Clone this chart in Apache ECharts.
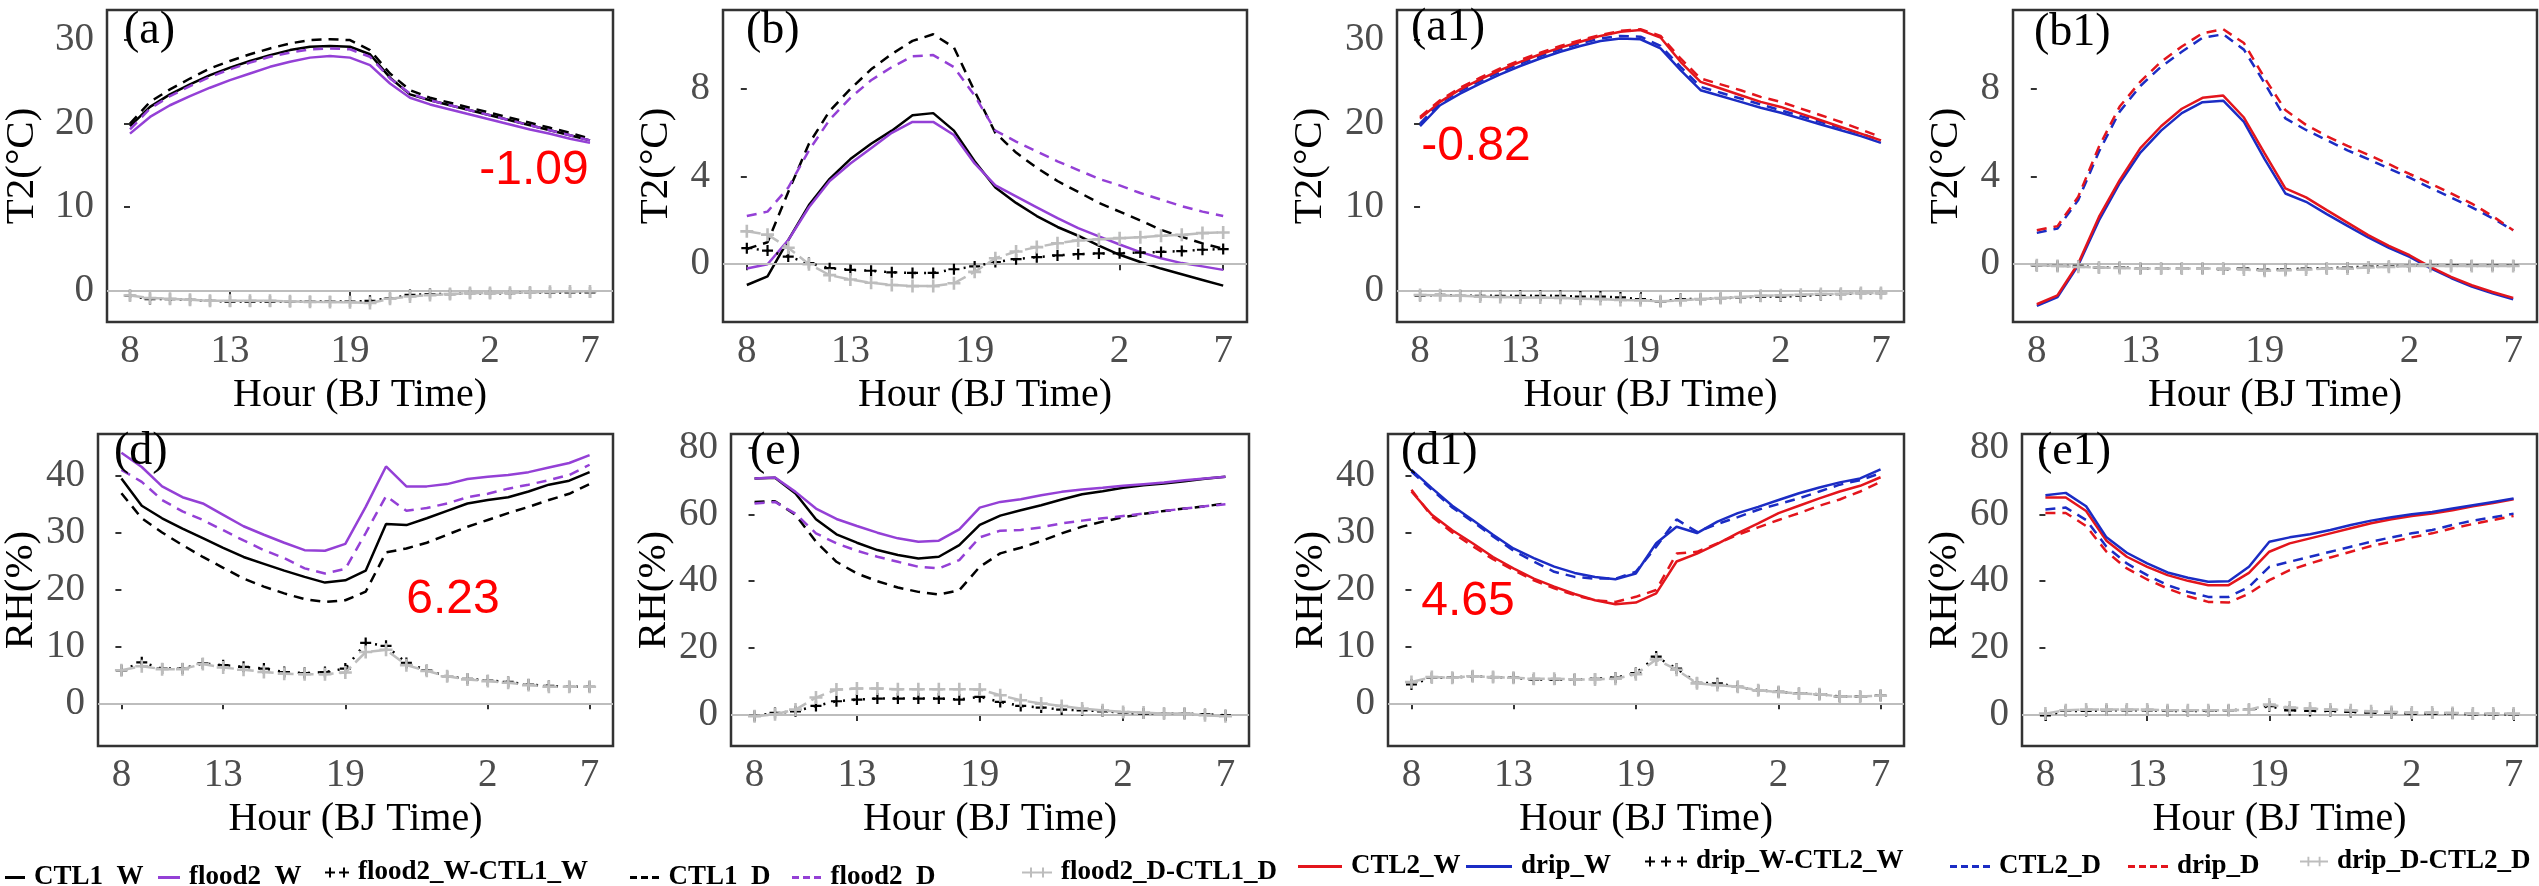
<!DOCTYPE html>
<html><head><meta charset="utf-8">
<script src="https://cdn.jsdelivr.net/npm/echarts@6/dist/echarts.min.js"></script>
<style>html,body{margin:0;padding:0;background:#fff}#c{width:2539px;height:886px}</style>
</head><body><div id="c"></div><script>
// ---------- categories ----------
const hours = [8,9,10,11,12,13,14,15,16,17,18,19,20,21,22,23,0,1,2,3,4,5,6,7];
const xTickIdx = [0,5,11,18,23];
const yTicksT2a = [0,10,20,30];
const yTicksT2b = [0,4,8];
const yTicksRHd = [0,10,20,30,40];
const yTicksRHe = [0,20,40,60,80];

// ---------- panel (a) T2 ----------
const a_CTL1_W   = [19.7,22.0,23.5,24.7,25.8,26.7,27.5,28.2,28.8,29.2,29.3,29.2,28.3,25.5,23.5,22.8,22.2,21.6,21.0,20.4,19.8,19.2,18.6,18.0];
const a_flood2_W = [18.8,20.8,22.2,23.3,24.3,25.2,26.0,26.8,27.4,27.9,28.1,27.9,27.0,24.8,23.1,22.3,21.7,21.1,20.5,19.9,19.3,18.8,18.2,17.7];
const a_diffW    = [-0.6,-1.0,-1.0,-1.1,-1.2,-1.3,-1.3,-1.3,-1.3,-1.3,-1.3,-1.3,-1.2,-0.9,-0.5,-0.4,-0.4,-0.3,-0.3,-0.3,-0.2,-0.2,-0.2,-0.2];
const a_CTL1_D   = [20.0,22.6,24.1,25.4,26.6,27.5,28.3,29.0,29.6,30.0,30.1,30.0,28.8,26.0,24.0,23.1,22.5,21.9,21.3,20.7,20.1,19.5,18.9,18.2];
const a_flood2_D = [19.3,21.8,23.3,24.5,25.6,26.5,27.3,28.0,28.5,28.9,29.0,28.9,28.0,25.4,23.6,22.8,22.2,21.6,21.0,20.4,19.8,19.2,18.6,18.0];
const a_diffD    = [-0.56,-0.88,-0.95,-1.08,-1.2,-1.2,-1.2,-1.2,-1.27,-1.33,-1.35,-1.38,-1.47,-0.96,-0.68,-0.52,-0.4,-0.28,-0.28,-0.24,-0.2,-0.12,-0.08,-0.08];

// ---------- panel (b) T2 ----------
const b_CTL1_W   = [-0.95,-0.56,1.1,2.7,3.9,4.8,5.5,6.1,6.8,6.9,6.1,4.7,3.5,2.8,2.2,1.7,1.3,0.85,0.43,0.1,-0.2,-0.46,-0.72,-0.98];
const b_flood2_W = [-0.2,0.0,1.1,2.6,3.8,4.6,5.3,6.0,6.5,6.5,5.9,4.6,3.6,3.1,2.6,2.1,1.65,1.27,0.9,0.55,0.27,0.05,-0.1,-0.26];
const b_diffW    = [0.73,0.62,0.35,0.05,-0.18,-0.26,-0.3,-0.37,-0.4,-0.4,-0.23,-0.1,0.1,0.23,0.32,0.4,0.46,0.49,0.5,0.53,0.56,0.6,0.66,0.69];
const b_CTL1_D   = [0.7,1.0,3.3,5.5,7.0,8.0,8.9,9.6,10.2,10.5,9.9,7.9,6.0,5.1,4.4,3.8,3.3,2.8,2.4,2.0,1.57,1.25,0.95,0.7];
const b_flood2_D = [2.2,2.4,3.5,5.2,6.6,7.6,8.4,9.0,9.5,9.55,9.0,7.7,6.1,5.6,5.15,4.7,4.3,3.9,3.6,3.25,2.95,2.65,2.4,2.2];
const b_diffD    = [1.5,1.35,0.75,0.0,-0.5,-0.7,-0.85,-0.95,-1.0,-1.0,-0.87,-0.35,0.27,0.58,0.78,0.96,1.08,1.14,1.19,1.23,1.3,1.34,1.42,1.45];

// ---------- panel (d) RH ----------
const d_CTL1_W   = [39.5,34.7,32.5,30.7,29.0,27.3,25.7,24.5,23.3,22.2,21.2,21.6,23.3,31.5,31.3,32.5,33.8,35.1,35.7,36.2,37.2,38.4,39.1,40.6];
const d_flood2_W = [44.0,41.5,38.1,36.2,35.1,33.1,31.1,29.6,28.2,26.9,26.8,28.0,34.5,41.6,38.1,38.1,38.5,39.4,39.8,40.1,40.6,41.4,42.2,43.6];
const d_diffW    = [5.8,7.2,6.1,6.1,7.0,6.7,6.4,6.1,5.5,5.3,5.5,6.1,10.6,10.1,7.1,5.8,4.75,4.3,4.0,3.75,3.3,3.05,2.9,2.9];
const d_CTL1_D   = [36.9,32.5,30.0,27.8,25.7,23.8,21.9,20.5,19.3,18.3,17.8,18.1,19.6,26.5,27.2,28.2,29.6,31.0,32.2,33.4,34.5,35.7,36.8,38.5];
const d_flood2_D = [41.0,38.9,35.7,33.7,32.2,30.4,28.6,26.9,25.5,23.7,22.8,23.6,29.9,36.4,33.8,34.3,35.1,36.2,36.8,37.7,38.4,39.2,40.1,41.9];
const d_diffD    = [5.8,6.5,6.0,6.0,6.9,6.3,5.9,5.5,5.2,5.1,5.1,5.4,9.0,9.4,6.7,5.7,4.75,4.2,3.9,3.6,3.2,2.9,2.9,2.9];

// ---------- panel (e) RH ----------
const e_CTL1_W   = [70.7,70.9,66.2,58.5,54.0,51.5,49.3,47.8,46.8,47.3,50.8,56.8,59.6,61.2,62.7,64.4,66.0,66.9,67.9,68.7,69.2,69.9,70.6,71.2];
const e_flood2_W = [70.7,71.0,66.7,61.7,58.6,56.5,54.5,52.8,51.8,52.1,55.5,62.0,63.7,64.5,65.7,66.7,67.4,67.9,68.5,69.0,69.5,70.2,70.7,71.2];
const e_diffW    = [-0.3,0.6,1.1,2.7,4.1,4.6,4.9,4.9,4.9,4.9,4.6,5.4,3.9,2.7,2.2,1.6,1.4,1.1,0.7,0.4,0.4,0.4,0.2,-0.1];
const e_CTL1_D   = [63.7,63.9,59.8,51.8,45.8,42.3,40.0,38.1,36.8,36.0,37.3,44.3,48.3,50.0,52.0,54.3,56.3,57.8,59.1,60.1,61.0,61.7,62.4,63.2];
const e_flood2_D = [63.2,63.7,60.2,54.3,51.3,49.1,47.3,45.8,44.3,43.8,46.3,53.1,55.1,55.3,56.1,57.3,58.1,58.8,59.5,60.2,61.0,61.7,62.4,63.0];
const e_diffD    = [-0.4,0.2,1.6,5.2,7.6,7.9,7.9,7.7,7.7,7.7,7.7,7.6,5.9,4.4,3.4,2.7,1.9,1.4,0.9,0.7,0.4,0.4,-0.1,-0.4];

// ---------- panel (a1) T2 ----------
const a1_CTL2_W  = [20.6,22.6,24.1,25.3,26.4,27.4,28.3,29.1,29.8,30.5,31.0,31.2,30.3,27.4,25.0,24.2,23.4,22.6,22.0,21.2,20.4,19.6,18.8,18.0];
const a1_drip_W  = [19.7,22.2,23.6,24.8,25.9,26.9,27.8,28.6,29.3,29.9,30.2,30.1,29.0,26.4,24.0,23.3,22.6,21.9,21.3,20.6,19.9,19.2,18.5,17.7];
const a1_diffW   = [-0.6,-0.5,-0.6,-0.6,-0.6,-0.6,-0.6,-0.6,-0.7,-0.7,-0.8,-1.0,-1.3,-1.0,-1.0,-0.9,-0.8,-0.7,-0.7,-0.6,-0.5,-0.4,-0.3,-0.3];
const a1_CTL2_D  = [20.0,22.5,23.9,25.1,26.2,27.2,28.1,28.9,29.6,30.2,30.5,30.4,29.3,26.8,24.4,23.7,23.0,22.3,21.6,20.9,20.2,19.5,18.8,18.0];
const a1_drip_D  = [20.8,22.8,24.3,25.5,26.6,27.6,28.5,29.3,30.0,30.6,31.1,31.3,30.5,27.8,25.4,24.7,24.0,23.2,22.6,21.8,21.0,20.2,19.3,18.4];
const a1_diffD   = [-0.5,-0.55,-0.6,-0.7,-0.75,-0.8,-0.8,-0.85,-0.95,-1.0,-1.1,-1.15,-1.27,-1.15,-1.0,-0.88,-0.75,-0.6,-0.55,-0.48,-0.4,-0.36,-0.28,-0.28];

// ---------- panel (b1) T2 ----------
const b1_CTL2_W  = [-1.83,-1.42,0.03,2.16,3.84,5.3,6.3,7.1,7.6,7.7,6.7,5.06,3.46,3.05,2.47,1.9,1.33,0.84,0.41,-0.12,-0.58,-0.96,-1.27,-1.54];
const b1_drip_W  = [-1.9,-1.5,-0.05,2.0,3.7,5.1,6.1,6.9,7.4,7.47,6.5,4.8,3.23,2.85,2.29,1.75,1.22,0.75,0.33,-0.18,-0.63,-1.02,-1.33,-1.6];
const b1_diffW   = [-0.07,-0.08,-0.08,-0.16,-0.14,-0.2,-0.2,-0.2,-0.2,-0.23,-0.2,-0.26,-0.23,-0.2,-0.18,-0.15,-0.11,-0.09,-0.08,-0.06,-0.05,-0.06,-0.06,-0.06];
const b1_CTL2_D  = [1.43,1.63,2.93,5.14,6.97,8.14,9.02,9.7,10.34,10.5,9.8,8.26,6.66,6.13,5.67,5.2,4.8,4.37,3.95,3.49,3.05,2.6,2.1,1.55];
const b1_drip_D  = [1.55,1.74,3.08,5.37,7.2,8.34,9.25,9.94,10.55,10.73,10.1,8.5,7.04,6.36,5.85,5.4,5.0,4.57,4.12,3.69,3.23,2.77,2.2,1.55];
const b1_diffD   = [-0.05,-0.08,-0.12,-0.15,-0.17,-0.2,-0.2,-0.2,-0.2,-0.2,-0.24,-0.3,-0.27,-0.24,-0.2,-0.2,-0.15,-0.12,-0.08,-0.08,-0.08,-0.08,-0.08,-0.08];

// ---------- panel (d1) RH ----------
const d1_CTL2_W  = [37.2,33.1,30.4,28.1,25.7,23.7,21.9,20.5,19.2,18.1,17.4,17.7,19.3,24.9,26.3,28.0,29.9,31.6,33.4,34.7,36.0,37.2,38.2,39.7];
const d1_drip_W  = [41.0,37.8,34.7,32.2,29.6,27.2,25.5,24.0,22.9,22.2,21.8,22.8,28.1,31.0,29.9,31.9,33.4,34.5,35.7,36.9,37.9,38.8,39.5,41.1];
const d1_diffW   = [3.3,4.5,4.5,4.75,4.6,4.5,4.2,4.2,4.2,4.3,4.5,5.3,8.2,6.1,3.6,3.5,2.9,2.3,2.0,1.7,1.6,1.2,1.2,1.35];
const d1_CTL2_D  = [40.7,37.5,34.4,31.9,29.3,26.8,24.9,23.1,22.2,21.9,21.9,23.1,27.5,32.3,30.1,31.5,32.7,34.0,35.0,36.0,37.2,38.4,39.2,40.4];
const d1_drip_D  = [37.5,32.8,30.0,27.6,25.3,23.4,21.6,20.2,19.0,18.1,17.8,18.7,19.9,26.3,26.6,28.1,29.6,30.9,32.2,33.4,34.7,35.8,37.2,38.9];
const d1_diffD   = [3.75,4.6,4.5,4.75,4.6,4.5,4.3,4.3,4.2,4.2,4.3,5.1,7.7,5.9,3.5,3.2,2.9,2.3,2.0,1.7,1.6,1.2,1.2,1.35];

// ---------- panel (e1) RH ----------
const e1_CTL2_W  = [65.0,65.0,61.0,52.1,47.3,44.3,41.8,40.1,38.8,38.8,42.5,48.8,51.3,52.8,54.3,55.8,57.3,58.5,59.5,60.2,61.2,62.4,63.4,64.5];
const e1_drip_W  = [65.7,66.4,62.4,53.1,48.5,45.3,42.6,41.0,39.8,40.0,44.3,51.8,53.1,54.0,55.3,56.8,58.1,59.1,60.0,60.7,61.7,62.7,63.7,64.7];
const e1_diffW   = [-0.1,1.2,1.2,1.4,1.4,1.4,1.2,1.2,1.2,1.4,1.6,2.6,1.4,1.2,1.2,0.9,0.7,0.6,0.4,0.4,0.4,0.2,0.2,0.2];
const e1_CTL2_D  = [61.4,62.0,58.3,50.3,45.3,41.8,38.8,36.8,35.3,35.3,38.3,44.3,45.8,47.3,48.8,50.3,51.8,53.1,54.3,55.3,56.8,58.1,59.1,60.2];
const e1_drip_D  = [60.4,60.4,56.5,48.8,43.8,40.5,37.8,35.5,33.8,33.6,36.3,40.3,43.3,45.3,47.1,48.8,50.5,51.8,53.1,54.3,55.8,57.1,58.3,59.5];
const e1_diffD   = [0.4,1.4,1.6,1.6,1.6,1.6,1.4,1.4,1.4,1.4,1.6,3.1,2.2,1.9,1.6,1.4,1.1,0.9,0.7,0.7,0.6,0.4,0.4,0.4];

// ---------- annotations ----------
const panelLabels = ['(a)','(b)','(a1)','(b1)','(d)','(e)','(d1)','(e1)'];
const meanDiffs = ['-1.09','','-0.82','','6.23','','4.65',''];

// ---------- styling ----------
const PURPLE = '#9440d6', RED = '#e3151c', BLUE = '#1b2cc4', GRAY = '#bdbdbd';
const PLUS = 'path://M4,0H6V4H10V6H6V10H4V6H0V4H4Z';
const SERIF = '"Liberation Serif", "Times New Roman", Times, "DejaVu Serif", serif';
const SANS = '"Liberation Sans", Arial, sans-serif';
const styles = {
  'CTL1_W': {color:'#000', dash:'solid'},
  'flood2_W': {color:PURPLE, dash:'solid'},
  'CTL1_D': {color:'#000', dash:[10,7]},
  'flood2_D': {color:PURPLE, dash:[10,7]},
  'flood2_W-CTL1_W': {color:'#000', dash:[2,8], plus:11},
  'flood2_D-CTL1_D': {color:GRAY, dash:[14,6], plus:13},
  'CTL2_W': {color:RED, dash:'solid'},
  'drip_W': {color:BLUE, dash:'solid'},
  'CTL2_D': {color:BLUE, dash:[10,7]},
  'drip_D': {color:RED, dash:[10,7]},
  'drip_W-CTL2_W': {color:'#000', dash:[2,8], plus:11},
  'drip_D-CTL2_D': {color:GRAY, dash:[14,6], plus:13}
};

const panels = [
  {g:[107,10,506,312], y:[-3.74,33.6], ticks:yTicksT2a, title:'T2(°C)', gap:64, lab:[124,31], ann:[534,171],
   s:[['CTL1_W',a_CTL1_W],['flood2_W',a_flood2_W],['CTL1_D',a_CTL1_D],['flood2_D',a_flood2_D],['flood2_W-CTL1_W',a_diffW],['flood2_D-CTL1_D',a_diffD]]},
  {g:[723,10,524,312], y:[-2.64,11.61], ticks:yTicksT2b, title:'T2(°C)', gap:46, lab:[746,31],
   s:[['CTL1_W',b_CTL1_W],['flood2_W',b_flood2_W],['CTL1_D',b_CTL1_D],['flood2_D',b_flood2_D],['flood2_W-CTL1_W',b_diffW],['flood2_D-CTL1_D',b_diffD]]},
  {g:[1397,10,507,312], y:[-3.74,33.6], ticks:yTicksT2a, title:'T2(°C)', gap:66, lab:[1411,28], ann:[1476,147],
   s:[['CTL2_D',a1_CTL2_D],['drip_W',a1_drip_W],['drip_D',a1_drip_D],['CTL2_W',a1_CTL2_W],['drip_W-CTL2_W',a1_diffW],['drip_D-CTL2_D',a1_diffD]]},
  {g:[2013,10,524,312], y:[-2.64,11.61], ticks:yTicksT2b, title:'T2(°C)', gap:46, lab:[2034,33],
   s:[['CTL2_D',b1_CTL2_D],['drip_D',b1_drip_D],['drip_W',b1_drip_W],['CTL2_W',b1_CTL2_W],['drip_W-CTL2_W',b1_diffW],['drip_D-CTL2_D',b1_diffD]]},
  {g:[97,434,516,312], y:[-7.5,47.3], ticks:yTicksRHd, title:'RH(%)', gap:56, lab:[114,452], ann:[453,600],
   s:[['CTL1_W',d_CTL1_W],['flood2_W',d_flood2_W],['CTL1_D',d_CTL1_D],['flood2_D',d_flood2_D],['flood2_W-CTL1_W',d_diffW],['flood2_D-CTL1_D',d_diffD]]},
  {g:[731,434,518,312], y:[-9.28,84.0], ticks:yTicksRHe, title:'RH(%)', gap:54, lab:[750,452],
   s:[['CTL1_W',e_CTL1_W],['flood2_W',e_flood2_W],['CTL1_D',e_CTL1_D],['flood2_D',e_flood2_D],['flood2_W-CTL1_W',e_diffW],['flood2_D-CTL1_D',e_diffD]]},
  {g:[1388,434,516,312], y:[-7.5,47.3], ticks:yTicksRHd, title:'RH(%)', gap:56, lab:[1401,452], ann:[1468,602],
   s:[['CTL2_D',d1_CTL2_D],['drip_D',d1_drip_D],['CTL2_W',d1_CTL2_W],['drip_W',d1_drip_W],['drip_W-CTL2_W',d1_diffW],['drip_D-CTL2_D',d1_diffD]]},
  {g:[2022,434,515,312], y:[-9.28,84.0], ticks:yTicksRHe, title:'RH(%)', gap:55, lab:[2037,452],
   s:[['CTL2_D',e1_CTL2_D],['drip_D',e1_drip_D],['CTL2_W',e1_CTL2_W],['drip_W',e1_drip_W],['drip_W-CTL2_W',e1_diffW],['drip_D-CTL2_D',e1_diffD]]}
];

const grid = [], xAxis = [], yAxis = [], series = [], graphic = [];
panels.forEach((p, k) => {
  grid.push({left:p.g[0], top:p.g[1], width:p.g[2], height:p.g[3], show:true,
    borderColor:'#333', borderWidth:2.5, backgroundColor:'transparent', containLabel:false});
  xAxis.push({type:'value', gridIndex:k, min:-1.15, max:24.15,
    name:'Hour (BJ Time)', nameLocation:'middle', nameGap:53,
    nameTextStyle:{fontFamily:SERIF, fontSize:40, color:'#000'},
    axisLine:{show:false}, splitLine:{show:false},
    axisTick:{show:true, length:6, customValues:xTickIdx, lineStyle:{color:'#333', width:2}},
    axisLabel:{customValues:xTickIdx, margin:10, fontFamily:SERIF, fontSize:39, color:'#4d4d4d',
      formatter:v => String(hours[Math.round(v)])}});
  yAxis.push({type:'value', gridIndex:k, min:p.y[0], max:p.y[1],
    name:p.title, nameLocation:'middle', nameGap:p.gap,
    nameTextStyle:{fontFamily:SERIF, fontSize:41, color:'#000'},
    axisLine:{show:false}, splitLine:{show:false},
    axisTick:{show:true, length:6, customValues:p.ticks, lineStyle:{color:'#333', width:2}},
    axisLabel:{customValues:p.ticks, margin:13, fontFamily:SERIF, fontSize:39, color:'#4d4d4d'}});
  p.s.forEach(([name, arr], j) => {
    const st = styles[name];
    const ser = {type:'line', name, xAxisIndex:k, yAxisIndex:k,
      data:arr.map((v,i)=>[i,v]), animation:false, silent:true,
      lineStyle:{color:st.color, width:2.5, type:st.dash},
      itemStyle:{color:st.color}, z: st.plus ? 3 + j : 2};
    if (st.plus) { ser.symbol = PLUS; ser.symbolSize = st.plus; ser.showSymbol = true; }
    else { ser.symbol = 'none'; }
    if (j === 0) {
      ser.markLine = {silent:true, symbol:'none', animation:false, label:{show:false},
        lineStyle:{color:GRAY, width:2, type:'solid'}, data:[{yAxis:0}]};
    }
    series.push(ser);
  });
  graphic.push({type:'text', x:p.lab[0], y:p.lab[1], z:10,
    style:{text:panelLabels[k], fill:'#000', fontSize:46, fontFamily:SERIF, align:'left', verticalAlign:'middle'}});
  if (p.ann) graphic.push({type:'text', x:p.ann[0], y:p.ann[1], z:10,
    style:{text:meanDiffs[k], fill:'#ff0000', fontSize:48, fontFamily:SANS, align:'center', verticalAlign:'middle'}});
});

// legend icons (drawn in the legend item box)
const ICON_SOLID = 'rect';
const ICON_DASH3 = 'path://M0,0H7V3H0Z M11,0H18V3H11Z M22,0H29V3H22Z';
const ICON_DASH4 = 'path://M0,0H7V3H0Z M11,0H18V3H11Z M22,0H29V3H22Z M33,0H40V3H33Z';
const ICON_PLUS2 = 'path://M4,0H6V4H10V6H6V10H4V6H0V4H4Z M18,0H20V4H24V6H20V10H18V6H14V4H18Z';
const ICON_PLUS3 = 'path://M4,0H6V4H10V6H6V10H4V6H0V4H4Z M20,0H22V4H26V6H22V10H20V6H16V4H20Z M36,0H38V4H42V6H38V10H36V6H32V4H36Z';
const ICON_GRAYPLUS = 'path://M0,4H30V6H0Z M8,0H10V10H8Z M20,0H22V10H20Z';

const legendPos = [
  ['CTL1_W',5,864,ICON_SOLID,20,3],['flood2_W',158,864,ICON_SOLID,22,3],['flood2_W-CTL1_W',325,859,ICON_PLUS2,24,10],
  ['CTL1_D',630,864,ICON_DASH3,30,3],['flood2_D',792,864,ICON_DASH3,30,3],['flood2_D-CTL1_D',1022,859,ICON_GRAYPLUS,30,10],
  ['CTL2_W',1298,853,ICON_SOLID,44,3],['drip_W',1466,853,ICON_SOLID,46,3],['drip_W-CTL2_W',1645,848,ICON_PLUS3,42,10],
  ['CTL2_D',1950,853,ICON_DASH4,40,3],['drip_D',2128,853,ICON_DASH4,40,3],['drip_D-CTL2_D',2300,848,ICON_GRAYPLUS,28,10]
];
const legend = legendPos.map(([n,l,t,icon,w,h]) => ({data:[{name:n, icon}], left:l, top:t, selectedMode:false,
  itemWidth:w, itemHeight:h, itemGap:8, padding:0, align:'left',
  textStyle:{fontFamily:SERIF, fontWeight:'bold', fontSize:27, color:'#000', padding:[0,0,0,4]}}));

const chart = echarts.init(document.getElementById('c'), null, {renderer:'canvas'});
chart.setOption({backgroundColor:'#fff', animation:false, grid, xAxis, yAxis, series, legend, graphic});
</script></body></html>
